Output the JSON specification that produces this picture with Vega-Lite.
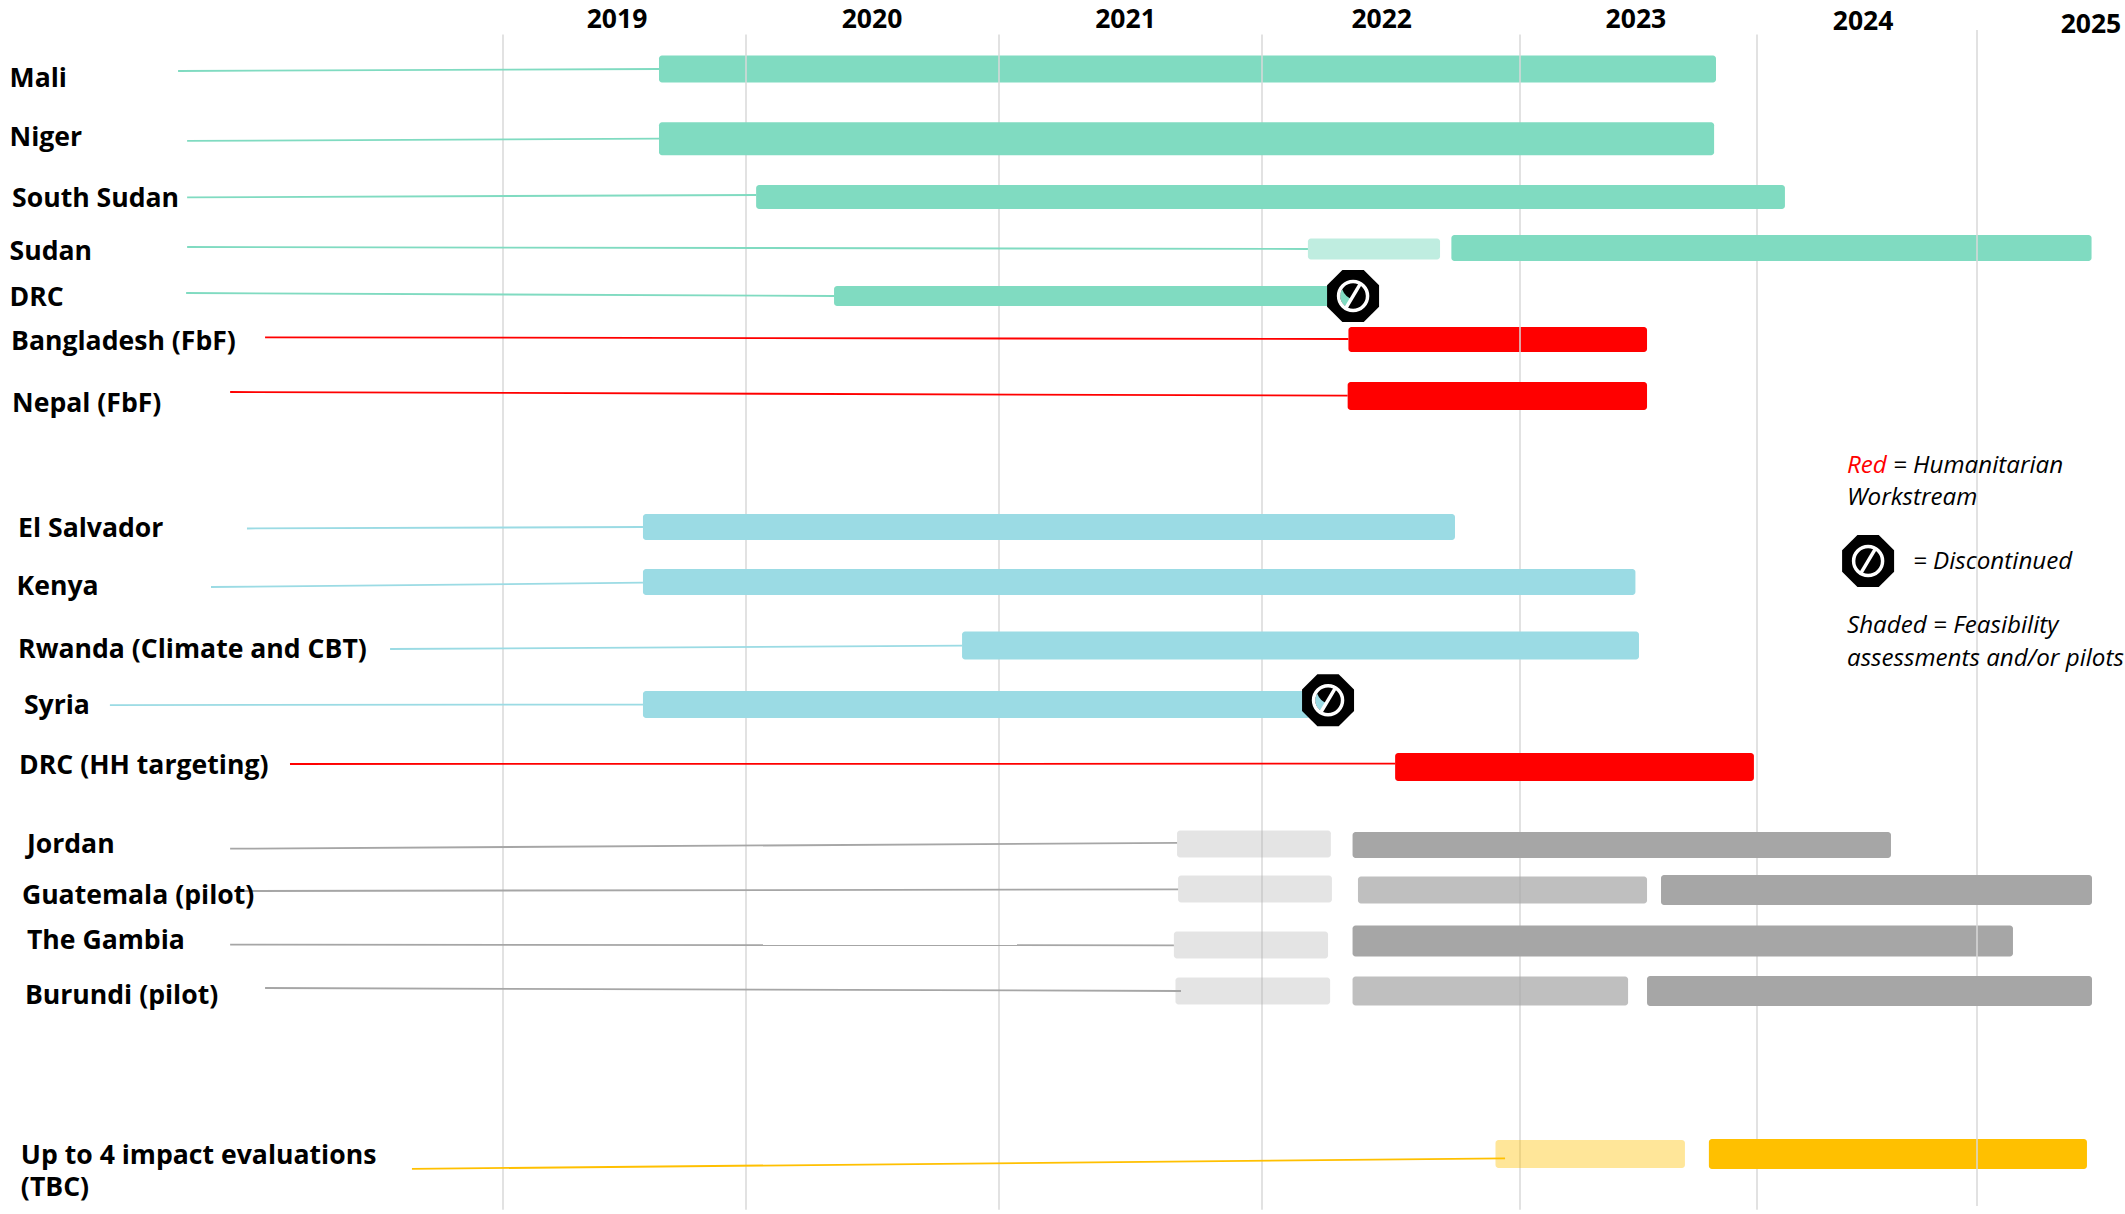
{
"$schema":"https://vega.github.io/schema/vega-lite/v6.json",
"width":2125,"height":1214,"padding":0,
"autosize":{"type":"fit","contains":"padding"},
"background":"white",
"view":{"stroke":null},
"datasets":{
"bars":[
{"segment":"Mali","stream":"A","phase":"Full","row":0,"t":2019.642,"tEnd":2023.827},
{"segment":"Niger","stream":"A","phase":"Full","row":1,"t":2019.642,"tEnd":2023.819},
{"segment":"South Sudan","stream":"A","phase":"Full","row":2,"t":2020.04,"tEnd":2024.127},
{"segment":"Sudan feasibility","stream":"A","phase":"Feasibility","row":3.02,"t":2022.178,"tEnd":2022.69},
{"segment":"Sudan","stream":"A","phase":"Full","row":3,"t":2022.734,"tEnd":2025.774},
{"segment":"DRC","stream":"A","phase":"Full","row":4,"t":2020.348,"tEnd":2022.302},
{"segment":"Bangladesh (FbF)","stream":"Humanitarian","phase":"Full","row":5,"t":2022.335,"tEnd":2023.536},
{"segment":"Nepal (FbF)","stream":"Humanitarian","phase":"Full","row":6,"t":2022.332,"tEnd":2023.536},
{"segment":"El Salvador","stream":"B","phase":"Full","row":7,"t":2019.576,"tEnd":2022.748},
{"segment":"Kenya","stream":"B","phase":"Full","row":8,"t":2019.576,"tEnd":2023.487},
{"segment":"Rwanda (Climate and CBT)","stream":"B","phase":"Full","row":9,"t":2020.854,"tEnd":2023.502},
{"segment":"Syria","stream":"B","phase":"Full","row":10,"t":2019.576,"tEnd":2022.186},
{"segment":"DRC (HH targeting)","stream":"Humanitarian","phase":"Full","row":11,"t":2022.516,"tEnd":2023.987},
{"segment":"Jordan feasibility","stream":"C","phase":"Feasibility","row":11.987,"t":2021.677,"tEnd":2022.267},
{"segment":"Jordan","stream":"C","phase":"Full","row":12,"t":2022.351,"tEnd":2024.609},
{"segment":"Guatemala feasibility","stream":"C","phase":"Feasibility","row":12.978,"t":2021.681,"tEnd":2022.271},
{"segment":"Guatemala pilot","stream":"C","phase":"Pilot","row":13,"t":2022.372,"tEnd":2023.536},
{"segment":"Guatemala","stream":"C","phase":"Full","row":13,"t":2023.595,"tEnd":2025.777},
{"segment":"The Gambia feasibility","stream":"C","phase":"Feasibility","row":14.08,"t":2021.665,"tEnd":2022.256},
{"segment":"The Gambia","stream":"C","phase":"Full","row":14,"t":2022.351,"tEnd":2025.243},
{"segment":"Burundi feasibility","stream":"C","phase":"Feasibility","row":15,"t":2021.671,"tEnd":2022.264},
{"segment":"Burundi pilot","stream":"C","phase":"Pilot","row":15,"t":2022.351,"tEnd":2023.456},
{"segment":"Burundi","stream":"C","phase":"Full","row":15,"t":2023.536,"tEnd":2025.777},
{"segment":"Impact feasibility","stream":"Evaluation","phase":"Feasibility","row":16,"t":2022.905,"tEnd":2023.696},
{"segment":"Impact","stream":"Evaluation","phase":"Full","row":16,"t":2023.797,"tEnd":2025.743}
],
"leaders":[
{"stream":"A","t":2017.708,"tEnd":2019.642,"row":0.029,"rowEnd":0},
{"stream":"A","t":2017.744,"tEnd":2019.642,"row":1.039,"rowEnd":1},
{"stream":"A","t":2017.744,"tEnd":2020.04,"row":2.006,"rowEnd":1.966},
{"stream":"A","t":2017.744,"tEnd":2022.178,"row":2.98,"rowEnd":3.021},
{"stream":"A","t":2017.74,"tEnd":2020.348,"row":3.9375,"rowEnd":4},
{"stream":"Humanitarian","t":2018.054,"tEnd":2022.335,"row":4.949,"rowEnd":4.989},
{"stream":"Humanitarian","t":2017.915,"tEnd":2022.332,"row":5.929,"rowEnd":5.995},
{"stream":"B","t":2017.982,"tEnd":2019.576,"row":7.027,"rowEnd":7},
{"stream":"B","t":2017.839,"tEnd":2019.576,"row":8.079,"rowEnd":8.011},
{"stream":"B","t":2018.551,"tEnd":2020.854,"row":9.059,"rowEnd":9.003},
{"stream":"B","t":2017.437,"tEnd":2019.576,"row":10.01,"rowEnd":10.003},
{"stream":"Humanitarian","t":2018.153,"tEnd":2022.516,"row":10.952,"rowEnd":10.947},
{"stream":"C","t":2017.915,"tEnd":2021.677,"row":12.082,"rowEnd":11.974},
{"stream":"C","t":2017.954,"tEnd":2021.681,"row":13.02,"rowEnd":12.984},
{"stream":"C","t":2017.915,"tEnd":2021.665,"row":14.074,"rowEnd":14.086},
{"stream":"C","t":2018.054,"tEnd":2021.692,"row":14.94,"rowEnd":15},
{"stream":"Evaluation","t":2018.638,"tEnd":2022.942,"row":16.267,"rowEnd":16.078}
],
"grid":[
{"t":2019,"tEnd":2019,"row":-0.536,"rowEnd":17},
{"t":2020,"tEnd":2020,"row":-0.536,"rowEnd":17},
{"t":2021,"tEnd":2021,"row":-0.536,"rowEnd":17},
{"t":2022,"tEnd":2022,"row":-0.536,"rowEnd":17},
{"t":2023,"tEnd":2023,"row":-0.536,"rowEnd":17},
{"t":2024,"tEnd":2024,"row":-0.536,"rowEnd":17},
{"t":2025,"tEnd":2025,"row":-0.609,"rowEnd":16.933}
],
"stops":[
{"t":2022.353,"row":4,"stream":"A"},
{"t":2022.256,"row":9.93,"stream":"B"},
{"t":2024.505,"row":7.618}
],
"labels":[
{"text":"Mali","t":2017.038,"row":0.116},
{"text":"Niger","t":2017.038,"row":0.97},
{"text":"South Sudan","t":2017.048,"row":2},
{"text":"Sudan","t":2017.038,"row":3.059},
{"text":"DRC","t":2017.038,"row":4.02},
{"text":"Bangladesh (FbF)","t":2017.044,"row":5.01},
{"text":"Nepal (FbF)","t":2017.048,"row":6.053},
{"text":"El Salvador","t":2017.072,"row":7},
{"text":"Kenya","t":2017.066,"row":8.05},
{"text":"Rwanda (Climate and CBT)","t":2017.072,"row":9.059},
{"text":"Syria","t":2017.095,"row":10.003},
{"text":"DRC (HH targeting)","t":2017.076,"row":10.96},
{"text":"Jordan","t":2017.107,"row":11.987},
{"text":"Guatemala (pilot)","t":2017.087,"row":13.098},
{"text":"The Gambia","t":2017.107,"row":13.98},
{"text":"Burundi (pilot)","t":2017.099,"row":15.02},
{"text":"Up to 4 impact evaluations","t":2017.083,"row":16.017},
{"text":"(TBC)","t":2017.083,"row":16.58}
],
"years":[
{"text":"2019","t":2019.469,"row":-0.743},
{"text":"2020","t":2020.498,"row":-0.74},
{"text":"2021","t":2021.481,"row":-0.74},
{"text":"2022","t":2022.464,"row":-0.74},
{"text":"2023","t":2023.489,"row":-0.74},
{"text":"2024","t":2024.482,"row":-0.714},
{"text":"2025","t":2025.77,"row":-0.662}
],
"notes":[
{"text":"Red","key":"red","t":2024.409,"row":6.527},
{"text":"= Humanitarian","key":"black","t":2024.618,"row":6.527},
{"text":"Workstream","key":"black","t":2024.409,"row":6.771},
{"text":"= Discontinued","key":"black","t":2024.709,"row":7.618},
{"text":"Shaded = Feasibility","key":"black","t":2024.409,"row":8.677},
{"text":"assessments and/or pilots","key":"black","t":2024.409,"row":9.212}
]
},
"encoding":{
"x":{"field":"t","type":"quantitative","axis":null,"scale":{"domain":[2017,2019,2020,2021,2022,2023,2024,2025,2026],"range":[0,503,746,999,1262,1520,1757,1977,2125],"nice":false,"zero":false}},
"y":{"field":"row","type":"quantitative","axis":null,"scale":{"domain":[-1,0,1,2,3,4,5,6,7,8,9,10,11,12,13,14,15,16,17],"range":[0,69,138.7,197,248,296,339.5,396,527,582,645.5,704.4,767,845,890,941,991,1154,1214],"nice":false,"zero":false}}
},
"layer":[
{"data":{"name":"bars"},"transform":[{"filter":{"field":"segment","oneOf":["Mali","Bangladesh (FbF)"]}}],
 "mark":{"type":"bar","cornerRadius":3},
 "encoding":{"x2":{"field":"tEnd"},
  "size":{"field":"segment","type":"nominal","legend":null,"scale":{"type":"ordinal","domain":["Mali","Niger","South Sudan","Sudan feasibility","Sudan","DRC","Bangladesh (FbF)","Nepal (FbF)","El Salvador","Kenya","Rwanda (Climate and CBT)","Syria","DRC (HH targeting)","Jordan feasibility","Jordan","Guatemala feasibility","Guatemala pilot","Guatemala","The Gambia feasibility","The Gambia","Burundi feasibility","Burundi pilot","Burundi","Impact feasibility","Impact"],"range":[27,33,24,21,26,20,25,28,26,26,28,27,28,27,26,27,27,30,27,31,27,29,30,28,30]}},
  "color":{"field":"stream","type":"nominal","legend":null,"scale":{"domain":["A","B","Humanitarian","C","Evaluation"],"range":["#80DBC1","#9BDBE4","#FF0000","#A6A6A6","#FFC000"]}}}},
{"data":{"name":"grid"},"transform":[{"filter":"datum.t < 2025"}],
 "mark":{"type":"rule","color":"#D9D9D9","strokeWidth":1.5},
 "encoding":{"x2":{"field":"tEnd"},"y2":{"field":"rowEnd"}}},
{"data":{"name":"bars"},"transform":[{"filter":{"not":{"field":"segment","oneOf":["Mali","Bangladesh (FbF)","Guatemala","Burundi"]}}}],
 "mark":{"type":"bar","cornerRadius":3},
 "encoding":{"x2":{"field":"tEnd"},
  "size":{"field":"segment","type":"nominal","legend":null,"scale":{"type":"ordinal","domain":["Mali","Niger","South Sudan","Sudan feasibility","Sudan","DRC","Bangladesh (FbF)","Nepal (FbF)","El Salvador","Kenya","Rwanda (Climate and CBT)","Syria","DRC (HH targeting)","Jordan feasibility","Jordan","Guatemala feasibility","Guatemala pilot","Guatemala","The Gambia feasibility","The Gambia","Burundi feasibility","Burundi pilot","Burundi","Impact feasibility","Impact"],"range":[27,33,24,21,26,20,25,28,26,26,28,27,28,27,26,27,27,30,27,31,27,29,30,28,30]}},
  "color":{"field":"stream","type":"nominal","legend":null},
  "opacity":{"condition":[
    {"test":"datum.phase === 'Feasibility' && datum.stream === 'A'","value":0.5},
    {"test":"datum.phase === 'Feasibility' && datum.stream === 'C'","value":0.3},
    {"test":"datum.phase === 'Feasibility' && datum.stream === 'Evaluation'","value":0.4},
    {"test":"datum.phase === 'Pilot'","value":0.72}
   ],"value":1}}},
{"data":{"name":"leaders"},
 "mark":{"type":"rule","strokeWidth":1.8},
 "encoding":{"x2":{"field":"tEnd"},"y2":{"field":"rowEnd"},"color":{"field":"stream","type":"nominal","legend":null}}},
{"data":{"name":"grid"},"transform":[{"filter":"datum.t === 2025"}],
 "mark":{"type":"rule","color":"#D9D9D9","strokeWidth":1.5},
 "encoding":{"x2":{"field":"tEnd"},"y2":{"field":"rowEnd"}}},
{"data":{"name":"bars"},"transform":[{"filter":{"field":"segment","oneOf":["Guatemala","Burundi"]}}],
 "mark":{"type":"bar","cornerRadius":3},
 "encoding":{"x2":{"field":"tEnd"},
  "size":{"field":"segment","type":"nominal","legend":null,"scale":{"type":"ordinal","domain":["Mali","Niger","South Sudan","Sudan feasibility","Sudan","DRC","Bangladesh (FbF)","Nepal (FbF)","El Salvador","Kenya","Rwanda (Climate and CBT)","Syria","DRC (HH targeting)","Jordan feasibility","Jordan","Guatemala feasibility","Guatemala pilot","Guatemala","The Gambia feasibility","The Gambia","Burundi feasibility","Burundi pilot","Burundi","Impact feasibility","Impact"],"range":[27,33,24,21,26,20,25,28,26,26,28,27,28,27,26,27,27,30,27,31,27,29,30,28,30]}},
  "color":{"field":"stream","type":"nominal","legend":null}}},
{"data":{"name":"stops"},
 "mark":{"type":"point","filled":true,"color":"black","opacity":1,"size":2704,"shape":"M -0.41,-1 L 0.41,-1 L 1,-0.41 L 1,0.41 L 0.41,1 L -0.41,1 L -1,0.41 L -1,-0.41 Z"}},
{"data":{"name":"stops"},"transform":[{"filter":"isValid(datum.stream)"}],
 "mark":{"type":"point","filled":true,"opacity":1,"size":2704,"shape":"M -0.42,-0.26 A 0.49 0.49 0 0 0 -0.22,0.44 L -0.02,0.12 Q -0.3,0.05 -0.42,-0.26 Z"},
 "encoding":{"color":{"field":"stream","type":"nominal","legend":null}}},
{"data":{"name":"stops"},
 "mark":{"type":"point","filled":false,"color":"white","opacity":1,"strokeWidth":3.5,"size":841,"shape":"circle"}},
{"data":{"name":"stops"},
 "mark":{"type":"point","filled":true,"color":"white","opacity":1,"size":2704,"shape":"M -0.33,0.42 L 0.22,-0.5 L 0.33,-0.42 L -0.22,0.5 Z"}},
{"data":{"name":"labels"},
 "mark":{"type":"text","align":"left","baseline":"middle","font":"Open Sans","fontWeight":"bold","fontSize":26.6,"dy":1.5,"color":"black"},
 "encoding":{"text":{"field":"text","type":"nominal"}}},
{"data":{"name":"years"},
 "mark":{"type":"text","align":"center","baseline":"middle","font":"Open Sans","fontWeight":"bold","fontSize":26.5,"dy":-1,"color":"black"},
 "encoding":{"text":{"field":"text","type":"nominal"}}},
{"data":{"name":"notes"},
 "mark":{"type":"text","align":"left","baseline":"middle","font":"Open Sans","fontStyle":"italic","fontSize":24.2,"dy":1},
 "encoding":{"text":{"field":"text","type":"nominal"},
  "color":{"condition":{"test":"datum.key === 'red'","value":"#FF0000"},"value":"black"}}}
]
}
